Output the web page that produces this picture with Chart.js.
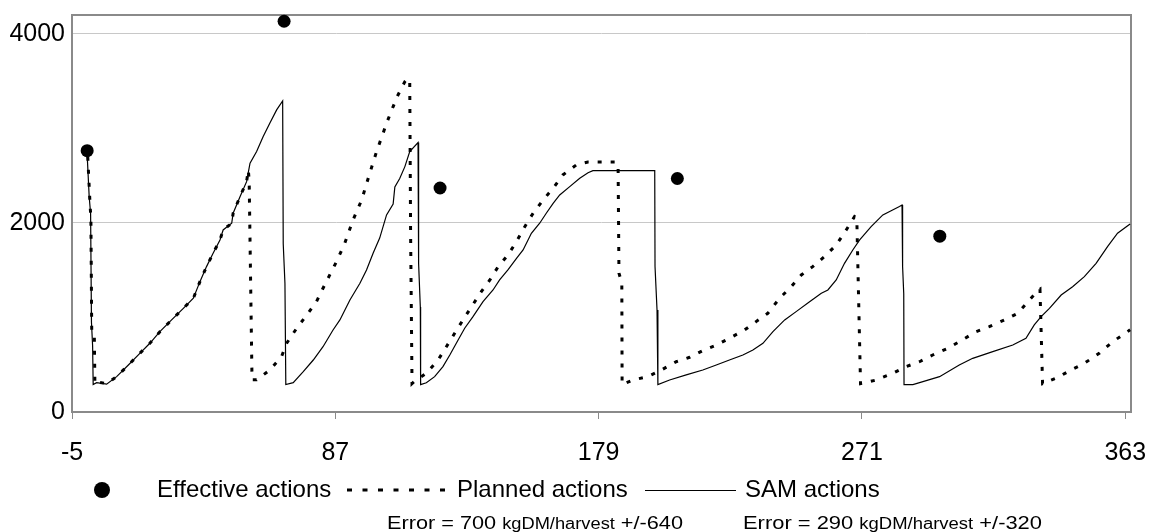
<!DOCTYPE html>
<html>
<head>
<meta charset="utf-8">
<script src="https://cdn.jsdelivr.net/npm/chart.js@4.4.1/dist/chart.umd.min.js"></script>
<style>
  html, body { margin: 0; padding: 0; background: #fff; }
  #wrap { position: relative; width: 1149px; height: 532px; overflow: hidden; }
  #chart { position: absolute; left: 0; top: 0; }
  #legend { position: absolute; left: 0; top: 0; pointer-events: none; }
</style>
</head>
<body>
<div id="wrap">
  <canvas id="chart" width="1149" height="532"></canvas>
  <svg id="legend" width="1149" height="532" font-family="'Liberation Sans', Arial, sans-serif" fill="#000">
    <circle cx="102" cy="490" r="8"/>
    <text x="157" y="497" font-size="24">Effective actions</text>
    <line x1="347" y1="490" x2="446" y2="490" stroke="#000" stroke-width="3" stroke-dasharray="5 10.5"/>
    <text x="457" y="497" font-size="24">Planned actions</text>
    <line x1="645" y1="490.5" x2="736" y2="490.5" stroke="#000" stroke-width="1"/>
    <text x="745" y="497" font-size="24">SAM actions</text>
    <text x="387" y="529" textLength="296" lengthAdjust="spacingAndGlyphs"><tspan font-size="19">Error = 700 </tspan><tspan font-size="16">kgDM/harvest</tspan><tspan font-size="19"> +/-640</tspan></text>
    <text x="743" y="529" textLength="299" lengthAdjust="spacingAndGlyphs"><tspan font-size="19">Error = 290 </tspan><tspan font-size="16">kgDM/harvest</tspan><tspan font-size="19"> +/-320</tspan></text>
  </svg>
</div>
<script>
// Axis ticks
const xTicks = [-5, 87, 179, 271, 363];
const yTicks = [0, 2000, 4000];

// Effective actions (dots)
const effectiveDays = [0.3, 69.1, 123.6, 206.5, 298.2];
const effectiveValues = [2765, 4134, 2370, 2470, 1860];

// Planned actions (dotted line)
const plannedDays = [
    0.5, 1.3, 1.6, 1.9, 2.8, 3.0, 3.6, 7.1, 10.6, 14.7, 18.7, 22.2, 25.7, 29.8, 33.9, 37.4,
    39.7, 42.0, 44.3, 46.7, 47.8, 50.8, 51.3, 53.7, 56.0, 56.6, 56.9, 57.9, 59.5, 64.1, 68.2,
    70.0, 73.5, 77.0, 80.4, 82.7, 87.4, 90.3, 93.2, 96.2, 98.5, 101.4, 103.7, 104.9, 107.2,
    108.9, 111.3, 112.4, 113.0, 113.3, 113.8, 114.5, 118.8, 122.9, 125.8, 128.7, 131.6, 134.6,
    138.0, 141.0, 143.9, 147.3, 150.3, 153.2, 156.1, 159.6, 163.1, 166.5, 171.2, 175.3, 185.2,
    185.8, 186.1, 187.1, 187.2, 191.0, 196.2, 200.9, 206.1, 210.8, 215.4, 220.1, 224.7, 230.0,
    234.0, 238.1, 242.2, 246.3, 249.8, 253.8, 257.9, 262.0, 265.5, 268.4, 269.2, 270.5, 271.3,
    276.0, 281.8, 286.4, 291.1, 295.7, 301.0, 305.0, 310.9, 315.5, 320.8, 325.4, 329.5, 332.7,
    333.2, 334.1, 338.8, 344.0, 348.7, 353.9, 358.6, 363.8, 364.7
];
const plannedValues = [
    2700, 2200, 2050, 830, 800, 300, 320, 300, 374, 497, 621, 727, 850, 974, 1097, 1203,
    1379, 1538, 1679, 1820, 1926, 1997, 2103, 2278, 2437, 2560, 2450, 340, 340, 444, 585,
    727, 886, 1026, 1167, 1309, 1590, 1785, 2032, 2243, 2473, 2755, 2950, 3055, 3231,
    3354, 3495, 3530, 3500, 1900, 300, 320, 410, 550, 691, 833, 974, 1114,
    1273, 1397, 1538, 1661, 1802, 1961, 2103, 2243, 2367, 2508, 2614, 2645, 2645,
    2600, 1470, 1360, 290, 339, 374, 444, 532, 579, 649, 709, 780, 868,
    956, 1044, 1203, 1326, 1450, 1538, 1644, 1767, 1926, 2067, 2050, 300, 304,
    339, 410, 480, 532, 603, 674, 744, 850, 903, 974, 1044, 1185, 1291,
    1300, 300, 357, 444, 515, 621, 744, 850, 870
];

// SAM actions (solid line)
const samDays = [
    0.3, 1.0, 1.5, 1.8, 2.2, 2.4, 3.6, 7.1, 10.6, 14.7, 18.7, 22.2, 25.7, 29.8, 33.9, 37.4,
    39.7, 42.0, 44.3, 46.7, 47.8, 50.8, 51.3, 53.7, 56.0, 57.2, 59.5, 61.8, 64.1, 66.5, 68.6,
    68.8, 69.4, 69.7, 72.3, 75.8, 79.3, 82.7, 86.2, 88.6, 92.1, 95.6, 97.9, 100.2, 102.5,
    104.9, 107.2, 107.8, 109.5, 111.3, 113.0, 115.9, 116.1, 116.7, 116.8, 118.8, 121.7, 124.6,
    127.0, 129.9, 132.2, 135.1, 138.6, 142.1, 144.4, 147.3, 150.3, 152.6, 155.5, 158.4, 160.7,
    163.1, 165.4, 168.9, 172.4, 175.3, 177.0, 198.6, 198.7, 199.4, 199.7, 203.8, 209.6, 215.4,
    220.1, 224.7, 229.4, 232.9, 236.4, 239.9, 244.0, 248.0, 252.7, 256.8, 259.1, 262.0, 264.9,
    267.8, 270.2, 274.2, 278.3, 281.2, 284.1, 285.0, 285.2, 285.6, 285.7, 288.8, 292.3, 298.1,
    305.0, 309.7, 316.7, 323.7, 328.3, 331.2, 333.6, 336.5, 340.6, 344.6, 348.7, 352.8, 356.8,
    360.3, 364.2, 364.7
];
const samValues = [
    2720, 2280, 2100, 950, 700, 290, 310, 295, 374, 497, 621, 727, 850, 974, 1097, 1203,
    1379, 1538, 1679, 1820, 1926, 1997, 2103, 2278, 2437, 2632, 2755, 2914, 3055, 3196, 3290,
    1780, 1360, 290, 310, 427, 550, 691, 868, 974, 1185, 1362, 1503, 1679, 1840,
    2085, 2200, 2380, 2470, 2596, 2755, 2850, 1570, 1110, 290, 310, 374, 480,
    603, 762, 886, 1009, 1167, 1291, 1397, 1503, 1626, 1714, 1891, 1997, 2103,
    2208, 2296, 2384, 2473, 2532, 2554, 2554, 1540, 1080, 290, 339, 392, 444,
    497, 550, 603, 656, 727, 850, 974, 1062, 1167, 1256, 1291, 1397, 1573,
    1714, 1820, 1961, 2085, 2130, 2175, 2190, 1540, 1250, 290, 290, 321, 374,
    497, 568, 638, 709, 780, 921, 1009, 1097, 1238, 1326, 1432, 1573, 1749,
    1891, 1979, 1990
];

const axisFont = { family: "'Liberation Sans', Arial, sans-serif", size: 25 };

function toPoints(days, values) {
    return days.map((d, i) => ({ x: d, y: values[i] }));
}

// Grey frame round the plot area
const plotFrame = {
    id: 'plotFrame',
    beforeDatasetsDraw(chart) {
        const { ctx, chartArea } = chart;
        ctx.save();
        ctx.strokeStyle = '#8a8a8a';
        ctx.lineWidth = 2;
        ctx.strokeRect(chartArea.left, chartArea.top,
            chartArea.right - chartArea.left, chartArea.bottom - chartArea.top);
        ctx.restore();
    }
};

new Chart(document.getElementById('chart'), {
    type: 'line',
    data: {
        datasets: [{
            label: 'Effective actions',
            data: toPoints(effectiveDays, effectiveValues),
            showLine: false,
            pointRadius: 6.5,
            pointBackgroundColor: '#000',
            pointBorderWidth: 0,
            clip: false
        }, {
            label: 'Planned actions',
            data: toPoints(plannedDays, plannedValues),
            borderColor: '#000',
            borderWidth: 3,
            borderDash: [4, 9],
            borderCapStyle: 'butt',
            pointRadius: 0,
            tension: 0
        }, {
            label: 'SAM actions',
            data: toPoints(samDays, samValues),
            borderColor: '#000',
            borderWidth: 1.2,
            pointRadius: 0,
            tension: 0
        }]
    },
    options: {
        responsive: false,
        animation: false,
        devicePixelRatio: 1,
        layout: { padding: { top: 15, right: 18, left: 0, bottom: 0 } },
        plugins: {
            legend: { display: false },
            tooltip: { enabled: false }
        },
        scales: {
            x: {
                type: 'linear',
                min: -5,
                max: 365,
                afterFit(scale) {
                    scale.height = 120;
                    scale.paddingLeft = 0;
                    scale.paddingRight = 0;
                },
                afterBuildTicks(scale) {
                    scale.ticks = xTicks.map(v => ({ value: v }));
                },
                grid: { drawOnChartArea: false, color: '#8a8a8a', tickLength: 7 },
                border: { display: false },
                ticks: {
                    color: '#000',
                    font: axisFont,
                    padding: 19,
                    maxRotation: 0,
                    autoSkip: false,
                    callback: v => String(v)
                }
            },
            y: {
                min: 0,
                max: 4200,
                afterFit(scale) {
                    scale.width = 72;
                    scale.paddingTop = 0;
                    scale.paddingBottom = 0;
                },
                afterBuildTicks(scale) {
                    scale.ticks = yTicks.map(v => ({ value: v }));
                },
                grid: { color: '#c8c8c8', drawTicks: false },
                border: { display: false },
                ticks: {
                    color: '#000',
                    font: axisFont,
                    padding: 7,
                    callback: v => String(v)
                }
            }
        }
    },
    plugins: [plotFrame]
});
</script>
</body>
</html>
